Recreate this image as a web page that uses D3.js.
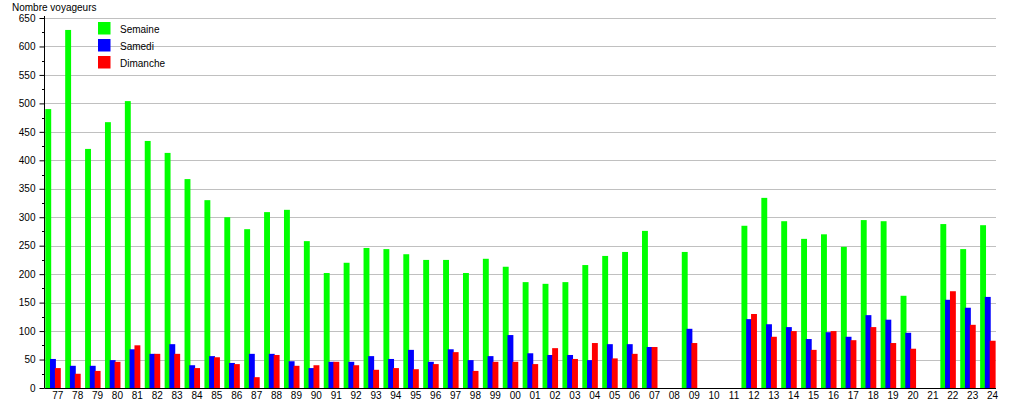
<!DOCTYPE html>
<html><head><meta charset="utf-8">
<script src="https://cdn.jsdelivr.net/npm/d3@7"></script>
<style>body{margin:0;background:#fff}svg{display:block}text{font-family:"Liberation Sans",Arial,sans-serif}</style>
</head><body><svg id="c" width="1015" height="400"></svg>
<script>
const categories = ["77","78","79","80","81","82","83","84","85","86","87","88","89","90","91","92","93","94","95","96","97","98","99","00","01","02","03","04","05","06","07","08","09","10","11","12","13","14","15","16","17","18","19","20","21","22","23","24"];
const semaine  = [490,629,420,467,504,434,413,367,330,300,279,309,313,258,202,220,246,244,235,225,225,202,227,213,186,183,186,216,232,239,276,0,239,0,0,285,334,293,262,270,248,295,293,162,0,288,244,286];
const samedi   = [51,39,39,49,68,60,77,40,56,44,60,60,47,35,46,46,56,51,67,46,68,49,56,93,61,58,58,49,77,77,72,0,104,0,0,121,112,107,86,98,90,128,120,97,0,155,141,160];
const dimanche = [35,25,30,46,75,60,60,35,54,42,19,58,39,40,46,40,32,35,33,42,63,30,46,46,42,70,51,79,52,60,72,0,79,0,0,130,90,100,67,100,84,107,79,69,0,170,111,83];
const seriesNames = ["Semaine","Samedi","Dimanche"];
const colors = ["#00ff00","#0000ff","#ff0000"];
const yTicks = d3.range(0,651,50);

const svg = d3.select("#c");
const x0 = 45.3, plotRight = 996, yTop = 18, yBottom = 388;
const x = d3.scaleBand().domain(categories).range([x0, x0 + 48*19.89]).padding(0);
const y = d3.scaleLinear().domain([0,650]).range([yBottom, yTop]);
const FS = "10px";

// gridlines
svg.append("g").selectAll("line").data(yTicks.filter(d=>d>0)).join("line")
  .attr("x1",45).attr("x2",plotRight).attr("y1",d=>Math.round(y(d))+0.5).attr("y2",d=>Math.round(y(d))+0.5)
  .attr("stroke","#c0c0c0").attr("stroke-width",1);

// bars
const all = [semaine, samedi, dimanche];
const offs = [0, 4.7, 9.6], bw = 5.9;
all.forEach((vals, si) => {
  svg.append("g").selectAll("rect").data(vals.map((v,i)=>({c:categories[i],v}))).join("rect")
    .filter(d=>d.v>0)
    .attr("x", d=>x(d.c)+offs[si]).attr("width", bw)
    .attr("y", d=>y(d.v)).attr("height", d=>yBottom - y(d.v))
    .attr("fill", colors[si]);
});

// y axis
const yAxis = d3.axisLeft(y).tickValues(yTicks).tickSize(5).tickPadding(4);
const gy = svg.append("g").attr("transform","translate(44.5,0)").call(yAxis);
gy.select(".domain").attr("d", `M0,${yTop-2}V${yBottom}`).attr("stroke","#000");
gy.selectAll("text").attr("font-size",FS).attr("fill","#000").attr("font-family","Liberation Sans, Arial, sans-serif");
gy.selectAll(".tick line").attr("stroke","#000");
const minor = d3.range(25,650,50);
svg.append("g").selectAll("line").data(minor).join("line")
  .attr("x1",42).attr("x2",44.5).attr("y1",d=>Math.round(y(d))+0.5).attr("y2",d=>Math.round(y(d))+0.5).attr("stroke","#000");

// x axis
svg.append("line").attr("x1",44.5).attr("x2",plotRight).attr("y1",yBottom+0.5).attr("y2",yBottom+0.5).attr("stroke","#000").attr("stroke-width",1);
const xAxis = d3.axisBottom(x).tickSize(0).tickPadding(4);
const gx = svg.append("g").attr("transform",`translate(2.5,${yBottom})`).call(xAxis);
gx.select(".domain").remove();
gx.selectAll("text").attr("font-size",FS).attr("fill","#000").attr("font-family","Liberation Sans, Arial, sans-serif");

// title
svg.append("text").attr("x",12).attr("y",11).attr("font-size",FS).text("Nombre voyageurs");

// legend
const lg = svg.append("g");
seriesNames.forEach((n,i)=>{
  lg.append("rect").attr("x",98).attr("y",22+i*17).attr("width",12.5).attr("height",12.5).attr("fill",colors[i]);
  lg.append("text").attr("x",120).attr("y",32.5+i*17).attr("font-size",FS).text(n);
});
</script></body></html>
